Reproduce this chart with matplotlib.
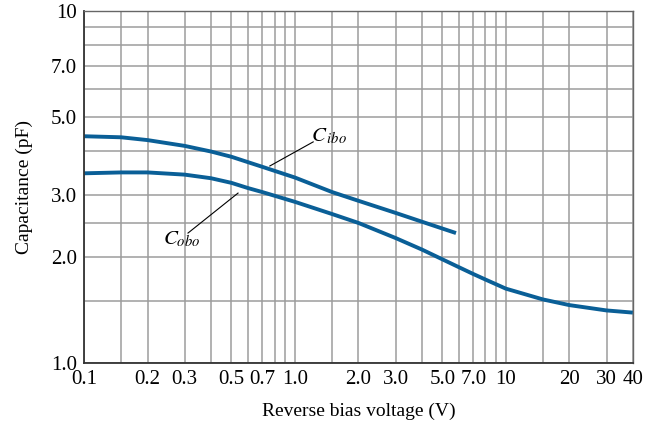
import matplotlib
matplotlib.use("Agg")
import matplotlib.pyplot as plt

# data (log-log)
v_ibo = [0.1, 0.15, 0.2, 0.3, 0.4, 0.5, 0.6, 0.7, 1.0, 1.5, 2.0, 3.0, 4.0, 5.0, 5.8]
c_ibo = [4.41, 4.38, 4.30, 4.14, 3.99, 3.855, 3.72, 3.61, 3.365, 3.06, 2.89, 2.67, 2.52, 2.41, 2.34]

v_obo = [0.1, 0.15, 0.2, 0.3, 0.4, 0.5, 0.6, 0.7, 1.0, 1.5, 2.0, 3.0, 4.0, 5.0, 6.0, 7.0, 8.0,
         10, 15, 20, 30, 40]
c_obo = [3.46, 3.48, 3.48, 3.43, 3.35, 3.25, 3.14, 3.06, 2.87, 2.65, 2.50, 2.265, 2.10, 1.97, 1.87,
         1.79, 1.726, 1.626, 1.515, 1.46, 1.41, 1.39]

x_grid = [0.1, 0.15, 0.2, 0.3, 0.4, 0.5, 0.6, 0.7, 0.8, 0.9, 1.0, 1.5, 2, 3, 4, 5, 6, 7, 8, 9, 10, 15, 20, 30, 40]
x_labels = {0.1: "0.1", 0.2: "0.2", 0.3: "0.3", 0.5: "0.5", 0.7: "0.7", 1.0: "1.0",
            2: "2.0", 3: "3.0", 5: "5.0", 7: "7.0", 10: "10", 20: "20", 30: "30", 40: "40"}
y_grid = [1.0, 1.5, 2.0, 2.5, 3.0, 4.0, 5.0, 6.0, 7.0, 8.0, 9.0, 10]
y_labels = {1.0: "1.0", 2.0: "2.0", 3.0: "3.0", 5.0: "5.0", 7.0: "7.0", 10: "10"}

plt.rcParams['font.family'] = ['Liberation Serif', 'DejaVu Serif']
plt.rcParams['mathtext.fontset'] = 'stix'

blue = '#0a5f97'

fig = plt.figure(figsize=(6.62, 4.30), dpi=100)
ax = fig.add_axes([0.127, 0.156, 0.829, 0.818])
ax.set_xscale('log')
ax.set_yscale('log')
ax.set_xlim(0.1, 40)
ax.set_ylim(1.0, 10)

ax.set_xticks(x_grid)
ax.set_xticklabels([x_labels.get(v, "") for v in x_grid])
ax.set_xticks([], minor=True)
ax.set_yticks(y_grid)
ax.set_yticklabels([y_labels.get(v, "") for v in y_grid])
ax.set_yticks([], minor=True)
ax.tick_params(length=0, labelsize=15, pad=5)
ax.grid(True, color='#9c9c9c', linewidth=1.1)

for s in ax.spines.values():
    s.set_color('#666666')
    s.set_linewidth(1.0)
ax.spines['left'].set_color('#333333')
ax.spines['bottom'].set_color('#333333')
ax.spines['left'].set_linewidth(1.3)
ax.spines['bottom'].set_linewidth(1.3)

ax.plot(v_ibo, c_ibo, color=blue, linewidth=2.8, solid_capstyle='butt', solid_joinstyle='round')
ax.plot(v_obo, c_obo, color=blue, linewidth=2.8, solid_capstyle='butt', solid_joinstyle='round')

# labels with leader lines
ax.text(1.19, 4.39, r'$C_{\,ibo}$', fontsize=15, ha='left', va='center')
ax.plot([0.76, 1.22], [3.63, 4.25], color='black', lw=0.8)
ax.text(0.29, 2.25, r'$C_{obo}$', fontsize=15, ha='center', va='center')
ax.plot([0.311, 0.537], [2.34, 3.04], color='black', lw=0.8)

ax.set_xlabel('Reverse bias voltage (V)', fontsize=14, labelpad=10)
ax.set_ylabel('Capacitance (pF)', fontsize=14, labelpad=13)

fig.savefig('out.png', dpi=100)
